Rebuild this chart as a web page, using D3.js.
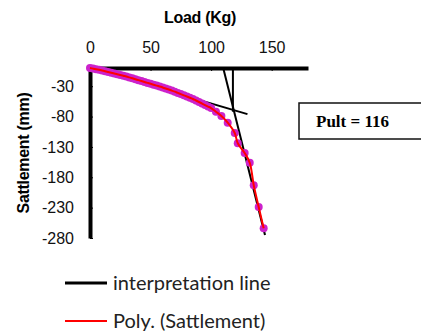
<!DOCTYPE html>
<html>
<head>
<meta charset="utf-8">
<script src="https://cdn.jsdelivr.net/npm/d3@7"></script>
<style>
  body { margin: 0; background: #fff; }
  svg { display: block; }
</style>
</head>
<body>
<div id="chart"></div>
<script>
// load test readings (Kg) and settlement (mm)
const loads = [0, 2.5, 5, 7.5, 10, 12.5, 15, 17.5, 20, 22.5, 25, 27.5, 30, 32.5, 35, 37.5, 40, 42.5, 45, 47.5,
               50, 52.5, 55, 57.5, 60, 62.5, 65, 67.5, 70, 72.5, 75, 77.5, 80, 82.5, 85, 87.5, 90, 92.5, 95, 97.5,
               100, 104, 108.5, 113.7, 119.5, 122, 127.7, 131.9, 135.2, 139.3, 143.4];
const settlements = [0, -1, -2, -3, -4, -5.2, -6.5, -7.8, -9, -10.2, -11.5, -12.8, -14, -15.5, -17, -18.5, -20, -21.5, -23, -24.5,
                     -26, -27.5, -29, -30.5, -32, -33.7, -35.5, -37.2, -39, -41, -43, -45, -47, -49, -51, -53.5, -56, -58.5, -61, -63.5,
                     -66, -72, -79, -90, -107, -124, -140, -156, -193, -229, -264];

// interpretation lines (two tangents + vertical at their crossing)
const tangentLoads = [0, 130];
const tangentSettlements = [0, -76];
const steepLoads = [110, 144.5];
const steepSettlements = [0, -275];
const pultLoads = [118, 118];
const pultSettlements = [0, -72];

const xTicks = [0, 50, 100, 150];
const yTicks = [-280, -230, -180, -130, -80, -30];
const pultText = "Pult = 116";
const legendLabels = ["interpretation line", "Poly. (Sattlement)"];

let width = 421, height = 334;

let svg = d3.select("#chart").append("svg")
    .attr("width", width)
    .attr("height", height);

let xScale = d3.scaleLinear().domain([0, 180]).range([90, 308]);
let yScale = d3.scaleLinear().domain([0, -280]).range([68, 238]);

// axis titles
svg.append("text")
    .attr("x", 200).attr("y", 23)
    .attr("text-anchor", "middle")
    .style("font", "bold 16px 'Liberation Sans', Arial, sans-serif")
    .style("letter-spacing", "-0.3px")
    .text("Load (Kg)");

svg.append("text")
    .attr("transform", "translate(29,153) rotate(-90)")
    .attr("text-anchor", "middle")
    .style("font", "bold 16px 'Liberation Sans', Arial, sans-serif")
    .style("letter-spacing", "-0.3px")
    .text("Sattlement (mm)");

// plain hyphen minus like the original
let fmt = function(d) { return String(d); };

// x axis on top, ticks pointing inside
let xAxis = svg.append("g")
    .attr("transform", "translate(0," + yScale(0) + ")")
    .call(d3.axisTop(xScale).tickValues(xTicks).tickFormat(fmt).tickSizeInner(-3).tickSizeOuter(0).tickPadding(15));

let yAxis = svg.append("g")
    .attr("transform", "translate(" + xScale(0) + ",0)")
    .call(d3.axisLeft(yScale).tickValues(yTicks).tickFormat(fmt).tickSizeInner(-3).tickSizeOuter(0).tickPadding(16));

[xAxis, yAxis].forEach(function(a) {
    a.select(".domain").attr("stroke", "#000").attr("stroke-width", 4);
    a.selectAll(".tick line").attr("stroke", "#000").attr("stroke-width", 1);
    a.selectAll(".tick text")
        .attr("fill", "#111")
        .style("font", "16px 'Liberation Sans', Arial, sans-serif");
});

let line = d3.line()
    .x(function(d) { return xScale(d[0]); })
    .y(function(d) { return yScale(d[1]); });

// interpretation lines
[[tangentLoads, tangentSettlements], [steepLoads, steepSettlements], [pultLoads, pultSettlements]].forEach(function(l) {
    svg.append("path")
        .datum(d3.zip(l[0], l[1]))
        .attr("fill", "none")
        .attr("stroke", "#000")
        .attr("stroke-width", 2)
        .attr("d", line);
});

let points = d3.zip(loads, settlements);

// settlement markers
svg.selectAll(".dot")
    .data(points)
    .enter()
    .append("circle")
    .attr("class", "dot")
    .attr("cx", function(d) { return xScale(d[0]); })
    .attr("cy", function(d) { return yScale(d[1]); })
    .attr("r", 4)
    .attr("fill", "#cc22cc");

// poly trend line
svg.append("path")
    .datum(points)
    .attr("fill", "none")
    .attr("stroke", "#ff0000")
    .attr("stroke-width", 2)
    .attr("d", line.curve(d3.curveCatmullRom));

// Pult box
svg.append("rect")
    .attr("x", 299).attr("y", 103)
    .attr("width", 140).attr("height", 36)
    .attr("fill", "#fff")
    .attr("stroke", "#111")
    .attr("stroke-width", 1.5);

svg.append("text")
    .attr("x", 316).attr("y", 127)
    .style("font", "bold 17px 'Liberation Serif', 'Times New Roman', serif")
    .text(pultText);

// legend
let legendColors = ["#000", "#ff0000"];
let legendWidths = [3, 2];
legendLabels.forEach(function(lab, i) {
    let ly = 283 + i * 38;
    svg.append("line")
        .attr("x1", 65).attr("x2", 107)
        .attr("y1", ly).attr("y2", ly)
        .attr("stroke", legendColors[i])
        .attr("stroke-width", legendWidths[i]);
    svg.append("text")
        .attr("x", 113).attr("y", ly + 7)
        .style("font", "20px Lato, 'Open Sans', sans-serif")
        .attr("fill", "#222")
        .text(lab);
});
</script>
</body>
</html>
